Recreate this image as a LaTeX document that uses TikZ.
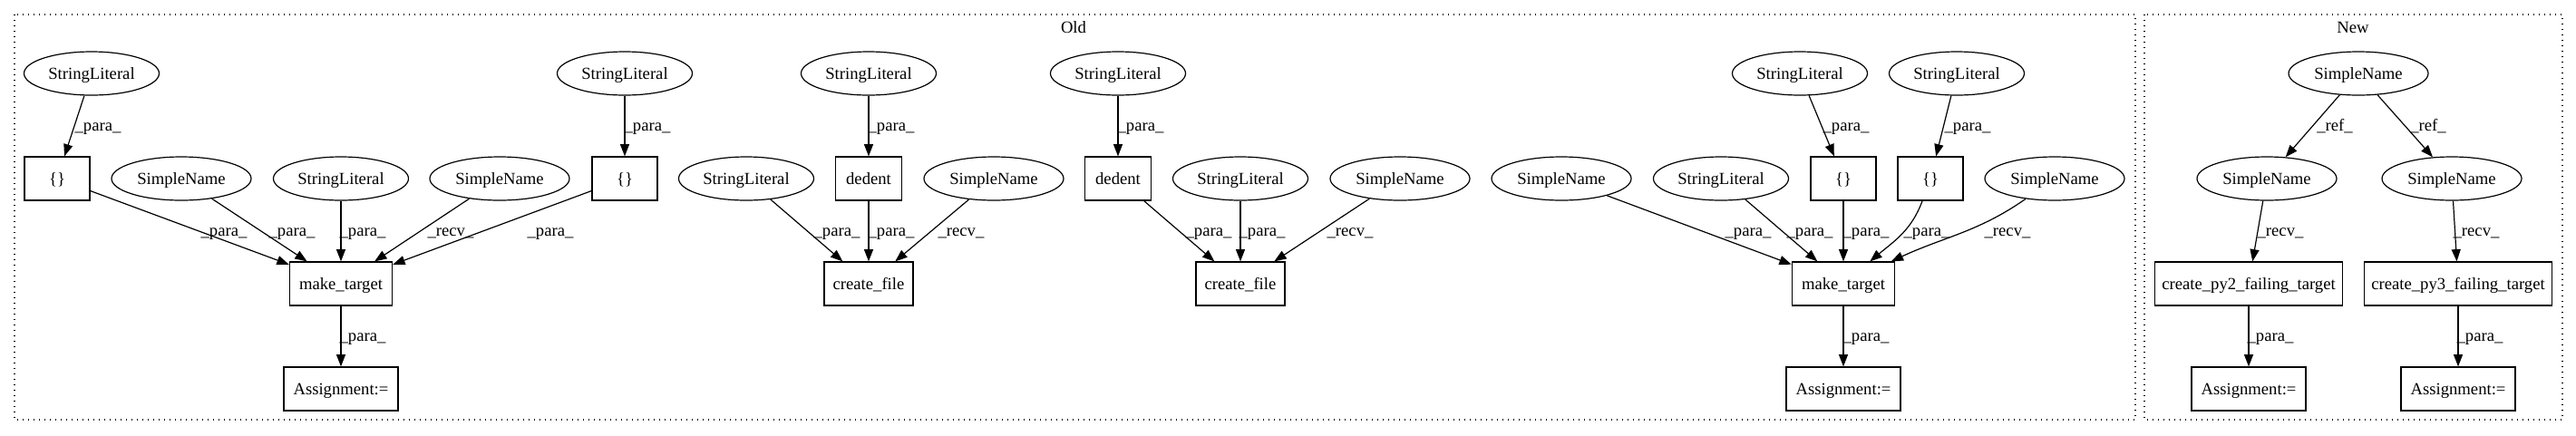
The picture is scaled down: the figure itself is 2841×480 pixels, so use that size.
\documentclass[tikz,border=0pt]{standalone}
\usepackage{fontspec}
\setmainfont{Liberation Serif}
\usetikzlibrary{shapes.geometric,arrows.meta}
\begin{document}
\begin{tikzpicture}[x=0.75pt,y=-0.75pt,
  every node/.style={font=\fontsize{14pt}{16pt}\selectfont},
  nodebase/.style={draw, line width=0.9pt, inner sep=0pt, text height=10.5pt, text depth=1.1pt},
  lit/.style={nodebase, ellipse, minimum width=111.75pt, minimum height=36pt},
  sn/.style={nodebase, ellipse, minimum width=115.5pt, minimum height=36pt},
  bx/.style={nodebase, rectangle, minimum height=36pt},
  lbl/.style={anchor=base, inner sep=0pt},
  arr/.style={line width=0.9pt, -{Triangle[length=10pt,width=7.5pt]}},
  cluster/.style={line width=0.9pt, dash pattern=on 1pt off 3.5pt}
]
\path[use as bounding box] (0,0) rectangle (2841,480);
% clusters
\draw[cluster] (16,16) rectangle (2355,463);
\draw[cluster] (2365,16) rectangle (2826,463);
\node[lbl] (tOld) at (1184,36) {Old};
\node[lbl] (tNew) at (2595,36) {New};

% group 1
\node[lit] (sl1) at (101,81) {StringLiteral};
\node[bx, minimum width=54pt] (br1) at (63,197) {\{\}};
\node[sn] (sn1) at (200,197) {SimpleName};
\node[lit] (sl2) at (376,197) {StringLiteral};
\node[sn] (sn2) at (551,197) {SimpleName};
\node[bx, minimum width=54pt] (br2) at (689,197) {\{\}};
\node[lit] (sl3) at (689,81) {StringLiteral};
\node[bx, minimum width=85pt] (mt1) at (376,313) {make\_target};
\node[bx, minimum width=94.5pt] (as1) at (376,429) {Assignment:=};

% group 2
\node[lit] (sl4) at (823,197) {StringLiteral};
\node[bx, minimum width=54.75pt] (de1) at (958,197) {dedent};
\node[lit] (sl5) at (958,81) {StringLiteral};
\node[sn] (sn3) at (1096,197) {SimpleName};
\node[bx, minimum width=73.5pt] (cf1) at (958,313) {create\_file};

% group 3
\node[lit] (sl6) at (1233,81) {StringLiteral};
\node[bx, minimum width=54.75pt] (de2) at (1233,197) {dedent};
\node[lit] (sl7) at (1368,197) {StringLiteral};
\node[sn] (sn4) at (1544,197) {SimpleName};
\node[bx, minimum width=73.5pt] (cf2) at (1368,313) {create\_file};

% group 4
\node[sn] (sn5) at (1722,197) {SimpleName};
\node[lit] (sl8) at (1898,197) {StringLiteral};
\node[lit] (sl9) at (1985,81) {StringLiteral};
\node[bx, minimum width=54pt] (br3) at (2033,197) {\{\}};
\node[lit] (sl10) at (2158,81) {StringLiteral};
\node[bx, minimum width=54pt] (br4) at (2129,197) {\{\}};
\node[sn] (sn6) at (2266,197) {SimpleName};
\node[bx, minimum width=85pt] (mt2) at (2033,313) {make\_target};
\node[bx, minimum width=94.5pt] (as2) at (2033,429) {Assignment:=};

% new
\node[sn] (sn7) at (2601,81) {SimpleName};
\node[sn] (sn8) at (2500,197) {SimpleName};
\node[sn] (sn9) at (2704,197) {SimpleName};
\node[bx, minimum width=155pt] (cp2) at (2480,313) {create\_py2\_failing\_target};
\node[bx, minimum width=155pt] (cp3) at (2711,313) {create\_py3\_failing\_target};
\node[bx, minimum width=94.5pt] (as3) at (2480,429) {Assignment:=};
\node[bx, minimum width=94.5pt] (as4) at (2711,429) {Assignment:=};

% edges group 1
\draw[arr] (sl1) -- (br1);
\draw[arr] (br1) -- (mt1);
\draw[arr] (sn1) -- (mt1);
\draw[arr] (sl2) -- (mt1);
\draw[arr] (sn2) -- (mt1);
\draw[arr] (br2) -- (mt1);
\draw[arr] (sl3) -- (br2);
\draw[arr] (mt1) -- (as1);
% group 2
\draw[arr] (sl5) -- (de1);
\draw[arr] (sl4) -- (cf1);
\draw[arr] (de1) -- (cf1);
\draw[arr] (sn3) -- (cf1);
% group 3
\draw[arr] (sl6) -- (de2);
\draw[arr] (de2) -- (cf2);
\draw[arr] (sl7) -- (cf2);
\draw[arr] (sn4) -- (cf2);
% group 4
\draw[arr] (sl9) -- (br3);
\draw[arr] (sl10) -- (br4);
\draw[arr] (sn5) -- (mt2);
\draw[arr] (sl8) -- (mt2);
\draw[arr] (br3) -- (mt2);
\draw[arr] (br4) to[out=-110,in=40] (mt2);
\draw[arr] (sn6) to[out=-145,in=25] (mt2);
\draw[arr] (mt2) -- (as2);
% new
\draw[arr] (sn7) -- (sn8);
\draw[arr] (sn7) -- (sn9);
\draw[arr] (sn8) -- (cp2);
\draw[arr] (sn9) -- (cp3);
\draw[arr] (cp2) -- (as3);
\draw[arr] (cp3) -- (as4);

% edge labels
\node[lbl] (l1) at (108,144) {\_para\_};
\node[lbl] (l2) at (247,260) {\_para\_};
\node[lbl] (l3) at (322,260) {\_para\_};
\node[lbl] (l4) at (400,260) {\_para\_};
\node[lbl] (l5) at (400,376) {\_para\_};
\node[lbl] (l6) at (497,260) {\_recv\_};
\node[lbl] (l7) at (607,260) {\_para\_};
\node[lbl] (l8) at (714,144) {\_para\_};
\node[lbl] (l9) at (923,260) {\_para\_};
\node[lbl] (l10) at (983,144) {\_para\_};
\node[lbl] (l11) at (983,260) {\_para\_};
\node[lbl] (l12) at (1060,260) {\_recv\_};
\node[lbl] (l13) at (1258,144) {\_para\_};
\node[lbl] (l14) at (1333,260) {\_para\_};
\node[lbl] (l15) at (1392,260) {\_para\_};
\node[lbl] (l16) at (1489,260) {\_recv\_};
\node[lbl] (l17) at (1928,260) {\_para\_};
\node[lbl] (l18) at (1996,260) {\_para\_};
\node[lbl] (l19) at (2058,260) {\_para\_};
\node[lbl] (l20) at (2125,260) {\_para\_};
\node[lbl] (l21) at (2214,260) {\_recv\_};
\node[lbl] (l22) at (2036,144) {\_para\_};
\node[lbl] (l23) at (2170,144) {\_para\_};
\node[lbl] (l24) at (2058,376) {\_para\_};
\node[lbl] (l25) at (2575,144) {\_ref\_};
\node[lbl] (l26) at (2678,144) {\_ref\_};
\node[lbl] (l27) at (2515,260) {\_recv\_};
\node[lbl] (l28) at (2731,260) {\_recv\_};
\node[lbl] (l29) at (2504,376) {\_para\_};
\node[lbl] (l30) at (2735,376) {\_para\_};
\end{tikzpicture}
\end{document}
